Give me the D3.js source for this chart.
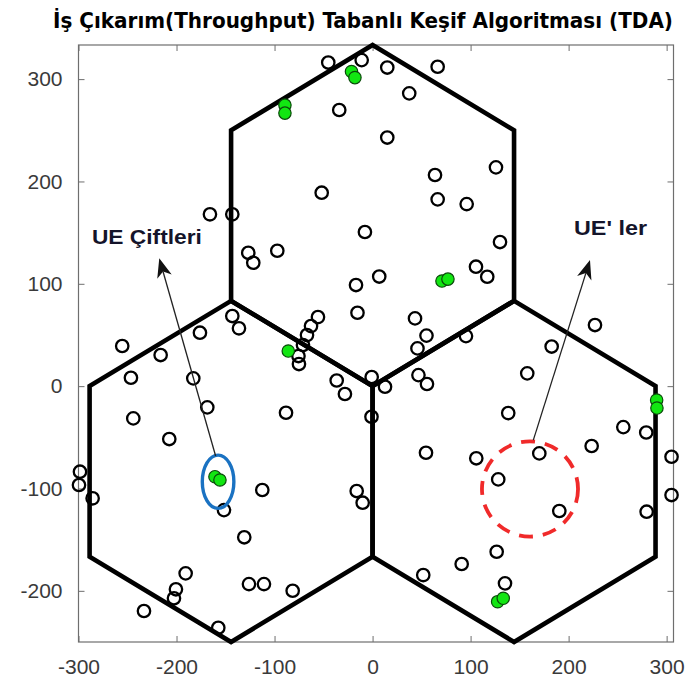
<!DOCTYPE html>
<html><head><meta charset="utf-8">
<script src="https://cdn.jsdelivr.net/npm/d3@7/dist/d3.min.js"></script>
<style>html,body{margin:0;padding:0;background:#fff;} svg{display:block;}</style>
</head><body><svg id="c" width="687" height="687"></svg>
<script>
// ---------- data ----------
const titleText = "İş Çıkarım(Throughput) Tabanlı Keşif Algoritması (TDA)";
const xTicks = [-300, -200, -100, 0, 100, 200, 300];
const yTicks = [-200, -100, 0, 100, 200, 300];
const xDomain = [-300, 307];
const yDomain = [-250, 333.33];

// hexagonal cells (pointy top)
const cellRadius = 500 / 3;
const cellCX = [0, -144.34, 144.34];
const cellCY = [166.67, -83.33, -83.33];

// ordinary UEs (open circles)
const ueX = [-45.2,-11.1,15.0,66.4,37.4,-34.0,15.0,-51.9,63.7,125.9,66.4,96.0,-7.8,-165.9,-143.1,130.0,-97.2,-126.8,-121.7,-16.9,6.8,105.5,117.0,-15.4,43.3,55.0,45.8,95.3,-55.7,-62.8,-66.9,-71.0,-75.6,-75.1,
 -143.1,-136.3,-255.4,-216.2,-176.1,-246.5,-182.9,-168.6,-244.1,-207.4,-298.5,-299.5,-285.6,-151.6,-112.5,-130.9,-16.2,-10.1,-190.7,-200.6,-202.6,-233.2,-126.1,-110.8,-81.5,-157.4,-88.3,-36.6,-28.2,-0.9,-1.1,
 12.7,46.8,55.5,157.8,182.7,226.9,138.4,255.8,279.2,54.5,105.8,170.1,223.5,128.2,190.5,279.6,305,305,126.6,90.9,51.7,135.1];
const ueY = [316.2,318.6,311.3,312.1,286.1,269.8,242.9,189.0,206.3,213.8,182.5,177.9,150.6,167.9,167.9,140.8,132.3,130.3,120.6,98.8,107.1,116.7,106.9,71.7,66.2,49.4,36.9,48.9,67.5,58.7,49.9,40.2,29.4,21.6,
 68.5,56.5,39.2,30.4,52.2,8.2,7.6,-20.7,-31.5,-51.7,-83.6,-96.6,-109.6,-121.1,-101.5,-147.7,-102.5,-113.9,-182.9,-198.5,-207.3,-219.7,-193.4,-193.4,-199.9,-236.1,-26.0,5.5,-7.7,8.9,-29.9,
 -0.6,10.8,2.1,12.5,38.7,59.7,-26.3,-40.0,-45.3,-65.1,-70.5,-65.7,-58.5,-91.1,-122.0,-122.7,-69.0,-106.4,-161.8,-173.8,-184.6,-192.7];

// paired UEs (green filled)
const pairX = [-21.5,-18.0,-89.4,-89.4,70.8,76.9,-86.0,-160.8,-155.7,289.8,290.1,127.6,133.3];
const pairY = [307.4,301.5,274.6,266.8,102.7,104.6,34.3,-88.5,-91.7,-13.6,-21.4,-210.6,-207.3];

// annotations (data units)
const labelText = ["UE Çiftleri", "UE' ler"];
const labelX = [-230.2, 242.7];
const labelY = [139, 148];
const labelWidth = [110, 73];
const arrowFromX = [-160.1, 164.0];
const arrowFromY = [-68.3, -52.7];
const arrowToX = [-217.6, 221.8];
const arrowToY = [124.9, 123.2];
const pairEllipse = {cx: -157.6, cy: -93.4, rx: 16.1, ry: 26};
const ueCircle = {cx: 160.6, cy: -100.5, rx: 49, ry: 46.5};

// ---------- drawing ----------
const L = 78.5, R = 673.5, T = 45, B = 642;
const svg = d3.select("#c");
const x = d3.scaleLinear().domain(xDomain).range([L, R]);
const y = d3.scaleLinear().domain(yDomain).range([B, T]);

// title
svg.append("text").attr("x", 53).attr("y", 28)
  .attr("font-family", "'Liberation Sans Narrow','Arial Narrow','DejaVu Sans Condensed','Liberation Sans',sans-serif")
  .attr("font-weight", "bold").attr("font-size", 21).attr("fill", "#000")
  .attr("textLength", 620).attr("lengthAdjust", "spacingAndGlyphs")
  .text(titleText);

// axes box + ticks
const axisColor = "#6e6e6e";
const tickFont = "'Liberation Sans',Arial,sans-serif";
const fmt = d => String(d);
const gx = svg.append("g").attr("transform", `translate(0,${B})`)
  .call(d3.axisBottom(x).tickValues(xTicks).tickSizeInner(-6).tickSizeOuter(0).tickPadding(17).tickFormat(fmt));
const gxt = svg.append("g").attr("transform", `translate(0,${T})`)
  .call(d3.axisTop(x).tickValues(xTicks).tickSizeInner(-6).tickSizeOuter(0).tickFormat(""));
const gy = svg.append("g").attr("transform", `translate(${L},0)`)
  .call(d3.axisLeft(y).tickValues(yTicks).tickSizeInner(-6).tickSizeOuter(0).tickPadding(16).tickFormat(fmt));
const gyr = svg.append("g").attr("transform", `translate(${R},0)`)
  .call(d3.axisRight(y).tickValues(yTicks).tickSizeInner(-6).tickSizeOuter(0).tickFormat(""));
[gx, gxt, gy, gyr].forEach(g => {
  g.select(".domain").remove();
  g.selectAll("line").attr("stroke", axisColor).attr("stroke-width", 1);
  g.selectAll("text").attr("font-family", tickFont).attr("font-size", 21).attr("fill", "#3a3a3a");
});
gx.selectAll("text").attr("dy", "0.71em");
svg.append("rect").attr("x", L).attr("y", T).attr("width", R - L).attr("height", B - T)
  .attr("fill", "none").attr("stroke", axisColor).attr("stroke-width", 1.2);

// hexagons
const hexPts = (cx, cy) => d3.range(6).map(k => {
  const a = Math.PI / 2 + k * Math.PI / 3;
  return [x(cx + cellRadius * Math.cos(a)), y(cy + cellRadius * Math.sin(a))];
});
svg.append("g").selectAll("polygon").data(cellCX.map((cx, i) => hexPts(cx, cellCY[i])))
  .join("polygon").attr("points", d => d.map(p => p.join(",")).join(" "))
  .attr("fill", "none").attr("stroke", "#000").attr("stroke-width", 4.6).attr("stroke-linejoin", "miter");

// UE markers
svg.append("g").selectAll("circle").data(ueX.map((v, i) => [v, ueY[i]]))
  .join("circle").attr("cx", d => x(d[0])).attr("cy", d => y(d[1])).attr("r", 6.2)
  .attr("fill", "none").attr("stroke", "#000").attr("stroke-width", 2.3);
svg.append("g").selectAll("circle").data(pairX.map((v, i) => [v, pairY[i]]))
  .join("circle").attr("cx", d => x(d[0])).attr("cy", d => y(d[1])).attr("r", 6.2)
  .attr("fill", "#12e612").attr("stroke", "#0a4a0a").attr("stroke-width", 1.2);

// blue ellipse around the UE pair
svg.append("ellipse").attr("cx", x(pairEllipse.cx)).attr("cy", y(pairEllipse.cy))
  .attr("rx", x(pairEllipse.rx) - x(0)).attr("ry", y(0) - y(pairEllipse.ry))
  .attr("fill", "none").attr("stroke", "#1a72c2").attr("stroke-width", 3.4);

// red dashed circle
svg.append("ellipse").attr("cx", x(ueCircle.cx)).attr("cy", y(ueCircle.cy))
  .attr("rx", x(ueCircle.rx) - x(0)).attr("ry", y(0) - y(ueCircle.ry))
  .attr("fill", "none").attr("stroke", "#f02a2a").attr("stroke-width", 3.8)
  .attr("stroke-dasharray", "14 10");

// arrows
arrowFromX.forEach((fx, i) => {
  const x0 = x(fx), y0 = y(arrowFromY[i]), x1 = x(arrowToX[i]), y1 = y(arrowToY[i]);
  const dx = x1 - x0, dy = y1 - y0, len = Math.hypot(dx, dy);
  const ux = dx / len, uy = dy / len, nx = -uy, ny = ux;
  const HL = 19, HW = 15;
  const bx = x1 - ux * HL, by = y1 - uy * HL;
  const nxp = x1 - ux * HL * 0.72, nyp = y1 - uy * HL * 0.72;
  svg.append("line").attr("x1", x0).attr("y1", y0).attr("x2", nxp).attr("y2", nyp)
    .attr("stroke", "#222").attr("stroke-width", 1.3);
  svg.append("polygon").attr("points", [
    [x1, y1], [bx + nx * HW / 2, by + ny * HW / 2], [nxp, nyp], [bx - nx * HW / 2, by - ny * HW / 2]
  ].map(p => p.join(",")).join(" ")).attr("fill", "#111");
});

// labels
svg.append("g").selectAll("text").data(labelText).join("text")
  .attr("x", (d, i) => x(labelX[i]) - labelWidth[i] / 2).attr("y", (d, i) => y(labelY[i]))
  .attr("textLength", (d, i) => labelWidth[i]).attr("lengthAdjust", "spacingAndGlyphs")
  .attr("font-family", "'Liberation Sans',Arial,sans-serif").attr("font-weight", "bold")
  .attr("font-size", 20).attr("fill", "#14142a")
  .text(d => d);
</script></body></html>
